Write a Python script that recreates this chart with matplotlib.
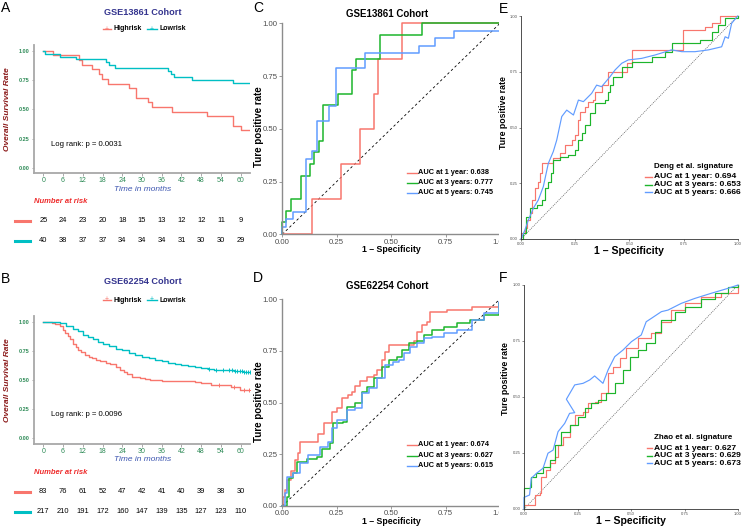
import matplotlib.pyplot as plt
import numpy as np
from matplotlib.lines import Line2D
from matplotlib.patches import Rectangle
import matplotlib.transforms as mtransforms

plt.rcParams['font.family'] = ['Liberation Sans', 'DejaVu Sans']

W, H = 746, 529

# ---- Kaplan-Meier data ----
month_ticks = [0, 6, 12, 18, 24, 30, 36, 42, 48, 54, 60]
km_end = 63

a_high_t = [0, 3.0, 11.0, 11.8, 14.7, 16.9, 17.7, 19.8, 25.9, 28.2, 31.9, 33.0, 39.0, 49.7, 57.8, 60.0]
a_high_s = [1.0, 0.96, 0.92, 0.88, 0.84, 0.80, 0.76, 0.72, 0.68, 0.60, 0.56, 0.52, 0.48, 0.44, 0.36, 0.32]
a_low_t = [0, 0.5, 5.1, 9.9, 19.1, 20.1, 21.8, 38.0, 38.8, 39.7, 45.1, 57.8]
a_low_s = [1.0, 0.975, 0.95, 0.925, 0.90, 0.875, 0.85, 0.825, 0.80, 0.775, 0.75, 0.725]
a_risk_high = [25, 24, 23, 20, 18, 15, 13, 12, 12, 11, 9]
a_risk_low = [40, 38, 37, 37, 34, 34, 34, 31, 30, 30, 29]

b_high_t = [0, 2.5, 3.5, 5.0, 6.0, 6.6, 7.5, 8.1, 9.1, 10.0, 10.6, 11.5, 12.7, 14.0, 14.7, 16.0, 17.2,
            19.0, 20.3, 22.0, 23.3, 24.5, 25.3, 27.0, 29.4, 31.0, 32.4, 36.0, 42.0, 46.0, 48.0, 51.0,
            54.0, 57.0, 59.8]
b_high_s = [1.0, 0.99, 0.976, 0.96, 0.93, 0.90, 0.876, 0.853, 0.81, 0.78, 0.76, 0.74, 0.717, 0.70, 0.69,
            0.675, 0.667, 0.65, 0.633, 0.61, 0.59, 0.566, 0.548, 0.53, 0.52, 0.506, 0.50, 0.494, 0.49,
            0.482, 0.47, 0.46, 0.455, 0.44, 0.414]
b_low_t = [0, 3.5, 5.0, 7.0, 9.0, 10.5, 12.2, 13.5, 15.0, 16.5, 18.0, 20.0, 22.0, 24.0, 26.0, 28.0,
           30.0, 32.0, 34.0, 36.0, 38.0, 40.0, 42.0, 44.0, 46.0, 48.0, 50.0, 52.0, 55.0, 58.0, 61.0]
b_low_s = [1.0, 0.995, 0.985, 0.96, 0.94, 0.92, 0.89, 0.87, 0.85, 0.83, 0.81, 0.79, 0.77, 0.755, 0.73,
           0.715, 0.70, 0.685, 0.672, 0.66, 0.65, 0.64, 0.632, 0.622, 0.61, 0.60, 0.593, 0.588, 0.583,
           0.578, 0.572]
b_high_cens = [53.5, 58.0, 61.0, 62.5]
b_low_cens = [50.5, 52.5, 54.5, 56.5, 57.5, 58.2, 59.0, 59.8, 60.5, 61.0, 61.6, 62.2, 62.7]
b_risk_high = [83, 76, 61, 52, 47, 42, 41, 40, 39, 38, 30]
b_risk_low = [217, 210, 191, 172, 160, 147, 139, 135, 127, 123, 110]

# ---- ROC data ----
c_fpr_1 = [0, 0.135, 0.135, 0.27, 0.27, 0.357, 0.357, 0.423, 0.423, 0.44, 0.44, 0.549, 0.549, 1.0]
c_tpr_1 = [0, 0, 0.167, 0.167, 0.333, 0.333, 0.5, 0.5, 0.667, 0.667, 0.833, 0.833, 1.0, 1.0]
c_fpr_3 = [0, 0, 0.017, 0.017, 0.04, 0.04, 0.084, 0.084, 0.127, 0.127, 0.146, 0.146, 0.167, 0.167,
           0.189, 0.189, 0.258, 0.258, 0.319, 0.319, 0.339, 0.339, 0.449, 0.449, 0.644, 0.644, 1.0]
c_tpr_3 = [0, 0.056, 0.056, 0.111, 0.111, 0.167, 0.167, 0.278, 0.278, 0.333, 0.333, 0.389, 0.389,
           0.444, 0.444, 0.611, 0.611, 0.667, 0.667, 0.778, 0.778, 0.833, 0.833, 0.944, 0.944, 1.0, 1.0]
c_fpr_5 = [0, 0, 0.017, 0.017, 0.05, 0.05, 0.109, 0.109, 0.135, 0.135, 0.158, 0.158, 0.215, 0.215,
           0.245, 0.245, 0.38, 0.38, 0.626, 0.626, 0.702, 0.702, 0.787, 0.787, 1.0]
c_tpr_5 = [0, 0.036, 0.036, 0.071, 0.071, 0.107, 0.107, 0.357, 0.357, 0.393, 0.393, 0.536, 0.536,
           0.607, 0.607, 0.786, 0.786, 0.857, 0.857, 0.893, 0.893, 0.929, 0.929, 0.964, 0.964]
c_labels = ['AUC at 1 year: 0.638', 'AUC at 3 years: 0.777', 'AUC at 5 years: 0.745']

d_fpr_1 = [0, 0.005, 0.012, 0.023, 0.038, 0.058, 0.071, 0.081, 0.158, 0.166, 0.192, 0.216, 0.227, 0.253,
           0.273, 0.304, 0.319, 0.334, 0.357, 0.388, 0.419, 0.434, 0.457, 0.472, 0.488, 0.603, 0.618,
           0.641, 0.664, 0.679, 0.733, 0.756, 0.871, 0.971, 0.994, 1.0]
d_tpr_1 = [0, 0.045, 0.077, 0.126, 0.171, 0.222, 0.254, 0.311, 0.311, 0.35, 0.40, 0.40, 0.456, 0.472,
           0.52, 0.536, 0.552, 0.58, 0.606, 0.625, 0.633, 0.657, 0.705, 0.746, 0.778, 0.797, 0.842,
           0.874, 0.89, 0.935, 0.935, 0.947, 0.963, 0.963, 0.979, 1.0]
d_fpr_3 = [0, 0.023, 0.032, 0.05, 0.066, 0.112, 0.158, 0.181, 0.219, 0.232, 0.281, 0.296, 0.334, 0.365,
           0.388, 0.419, 0.457, 0.488, 0.526, 0.549, 0.58, 0.618, 0.649, 0.687, 0.741, 0.802, 0.863,
           0.925, 0.994, 1.0]
d_tpr_3 = [0, 0.045, 0.134, 0.158, 0.214, 0.225, 0.238, 0.274, 0.306, 0.40, 0.407, 0.48, 0.496, 0.552,
           0.577, 0.617, 0.673, 0.705, 0.722, 0.754, 0.786, 0.799, 0.826, 0.85, 0.866, 0.882, 0.899,
           0.923, 0.979, 1.0]
d_fpr_5 = [0, 0.012, 0.023, 0.05, 0.081, 0.12, 0.173, 0.212, 0.227, 0.25, 0.288, 0.296, 0.334, 0.365,
           0.396, 0.434, 0.472, 0.51, 0.534, 0.557, 0.587, 0.618, 0.649, 0.687, 0.741, 0.802, 0.871,
           0.925, 0.994, 1.0]
d_tpr_5 = [0, 0.061, 0.141, 0.158, 0.206, 0.246, 0.287, 0.311, 0.375, 0.416, 0.416, 0.464, 0.472, 0.544,
           0.568, 0.617, 0.681, 0.697, 0.705, 0.737, 0.766, 0.786, 0.81, 0.818, 0.834, 0.85, 0.899,
           0.931, 0.987, 1.0]
d_labels = ['AUC at 1 year: 0.674', 'AUC at 3 years: 0.627', 'AUC at 5 years: 0.615']

e_fpr_1 = [0, 0, 0.018, 0.026, 0.042, 0.052, 0.065, 0.08, 0.088, 0.095, 0.134, 0.149, 0.18, 0.203, 0.234,
           0.249, 0.262, 0.272, 0.295, 0.311, 0.334, 0.342, 0.372, 0.403, 0.465, 0.488, 0.511, 0.642,
           0.688, 0.749, 0.811, 0.849, 0.88, 0.918, 1.0]
e_tpr_1 = [0, 0.025, 0.048, 0.085, 0.115, 0.175, 0.227, 0.257, 0.294, 0.339, 0.342, 0.362, 0.384, 0.422,
           0.444, 0.466, 0.534, 0.571, 0.593, 0.616, 0.623, 0.66, 0.69, 0.75, 0.75, 0.788, 0.848, 0.848,
           0.848, 0.937, 0.937, 0.952, 0.967, 1.0, 1.0]
e_fpr_3 = [0, 0.011, 0.022, 0.042, 0.072, 0.095, 0.111, 0.126, 0.138, 0.149, 0.18, 0.218, 0.249, 0.265,
           0.283, 0.295, 0.318, 0.342, 0.388, 0.403, 0.411, 0.426, 0.465, 0.511, 0.603, 0.665, 0.695,
           0.757, 0.826, 0.88, 0.911, 0.942, 1.0]
e_tpr_3 = [0, 0.025, 0.1, 0.138, 0.152, 0.175, 0.227, 0.257, 0.294, 0.354, 0.369, 0.377, 0.399, 0.444,
           0.474, 0.511, 0.564, 0.608, 0.623, 0.66, 0.69, 0.728, 0.773, 0.795, 0.818, 0.84, 0.877, 0.877,
           0.892, 0.93, 0.96, 0.99, 1.0]
e_fpr_5 = [0, 0.018, 0.034, 0.057, 0.08, 0.103, 0.126, 0.149, 0.165, 0.188, 0.211, 0.242, 0.265, 0.288,
           0.326, 0.349, 0.372, 0.411, 0.434, 0.465, 0.495, 0.557, 0.618, 0.695, 0.742, 0.803, 0.865,
           0.926, 0.942, 0.957, 0.972, 1.0]
e_tpr_5 = [0, 0.04, 0.085, 0.138, 0.175, 0.235, 0.339, 0.392, 0.444, 0.549, 0.578, 0.556, 0.623, 0.616,
           0.653, 0.69, 0.683, 0.728, 0.758, 0.788, 0.803, 0.81, 0.825, 0.848, 0.84, 0.84, 0.848, 0.862,
           0.907, 0.9, 0.967, 1.0]
e_labels = ['AUC at 1 year: 0.694', 'AUC at 3 years: 0.653', 'AUC at 5 years: 0.666']

f_fpr_1 = [0, 0, 0.026, 0.05, 0.073, 0.081, 0.104, 0.12, 0.143, 0.159, 0.182, 0.213, 0.237, 0.276, 0.299,
           0.33, 0.361, 0.393, 0.416, 0.447, 0.478, 0.533, 0.595, 0.642, 0.688, 0.751, 0.829, 0.922, 1.0]
f_tpr_1 = [0, 0.018, 0.018, 0.0625, 0.07, 0.144, 0.174, 0.204, 0.234, 0.286, 0.323, 0.375, 0.42, 0.435,
           0.472, 0.479, 0.516, 0.606, 0.635, 0.673, 0.717, 0.762, 0.784, 0.836, 0.888, 0.918, 0.945,
           0.963, 1.0]
f_fpr_3 = [0, 0, 0.026, 0.034, 0.058, 0.089, 0.12, 0.143, 0.174, 0.213, 0.252, 0.283, 0.315, 0.346,
           0.385, 0.424, 0.463, 0.494, 0.533, 0.572, 0.611, 0.642, 0.704, 0.751, 0.829, 0.891, 0.953, 1.0]
f_tpr_3 = [0, 0.092, 0.1, 0.144, 0.159, 0.189, 0.219, 0.286, 0.345, 0.375, 0.412, 0.449, 0.472, 0.487,
           0.516, 0.561, 0.621, 0.68, 0.71, 0.74, 0.792, 0.844, 0.881, 0.903, 0.936, 0.963, 0.993, 1.0]
f_fpr_5 = [0, 0, 0.026, 0.034, 0.058, 0.089, 0.112, 0.136, 0.159, 0.19, 0.213, 0.237, 0.198, 0.237,
           0.276, 0.307, 0.33, 0.369, 0.393, 0.424, 0.463, 0.502, 0.548, 0.571, 0.595, 0.642, 0.673,
           0.735, 0.798, 0.875, 0.953, 1.0]
f_tpr_5 = [0, 0.052, 0.0625, 0.137, 0.159, 0.182, 0.249, 0.263, 0.345, 0.382, 0.427, 0.43, 0.49, 0.554,
           0.561, 0.576, 0.594, 0.561, 0.621, 0.68, 0.71, 0.747, 0.777, 0.836, 0.851, 0.881, 0.888,
           0.918, 0.94, 0.963, 0.985, 1.0]
f_labels = ['AUC at 1 year: 0.627', 'AUC at 3 years: 0.629', 'AUC at 5 years: 0.673']

KM_RED, KM_CYAN = '#F8766D', '#00BFC4'
ROC_COLORS = ['#F8766D', '#1DB52C', '#619CFF']

fig = plt.figure(figsize=(W / 100, H / 100), dpi=100)


def add_ax(x0, y0, x1, y1, z=0):
    return fig.add_axes([x0 / W, 1 - y1 / H, (x1 - x0) / W, (y1 - y0) / H], zorder=z)


def ftext(x, y, s, **kw):
    return fig.text(x / W, 1 - y / H, s, **kw)


def fline(x0, x1, y, color, lw=1.0, **kw):
    fig.add_artist(Line2D([x0 / W, x1 / W], [1 - y / H, 1 - y / H], color=color, lw=lw, **kw))


def surv_at(t_arr, s_arr, times):
    idx = np.searchsorted(t_arr, times, side='right') - 1
    return np.asarray(s_arr)[idx]


def km_panel(top, bottom, one_y, zero_y, data, cens, risk, rows, title, pval):
    ax = add_ax(34, top, 250, bottom)
    px_per_month = (240.7 - 43.3) / 60
    ax.set_xlim(-(43.3 - 34) / px_per_month, (250 - 43.3) / px_per_month)
    unit = zero_y - one_y
    ax.set_ylim(-(bottom - zero_y) / unit, 1 + (one_y - top) / unit)
    for (t, s), col in zip(data, [KM_RED, KM_CYAN]):
        ax.step(list(t) + [km_end], list(s) + [s[-1]], where='post', color=col, lw=1.0)
    for (t, s), ct, col in zip(data, cens, [KM_RED, KM_CYAN]):
        if ct:
            ax.plot(ct, surv_at(t, s, ct), ls='none', marker='+', ms=3.5, mew=0.7, color=col)
    for sp in ['top', 'right']:
        ax.spines[sp].set_visible(False)
    for sp in ['left', 'bottom']:
        ax.spines[sp].set_color('#A8A8A8')
        ax.spines[sp].set_linewidth(1.3)
    ax.set_yticks([0, 0.25, 0.5, 0.75, 1.0])
    ax.set_yticklabels(['0.00', '0.25', '0.50', '0.75', '1.00'], fontsize=4, fontweight='bold',
                       color='#2E8B57')
    ax.set_xticks(month_ticks)
    ax.set_xticklabels([str(m) for m in month_ticks], fontsize=5.0, color='#2E8B57')
    ax.tick_params(length=1.8, width=0.5, color='#888888', pad=1.2)
    ftext(50.7, pval[1], pval[0], fontsize=5.6, va='center', ha='left')
    ftext(143, title[1], title[0], fontsize=6.6, fontweight='bold', color='#35358F',
          ha='center', va='center')
    ly = title[2]
    fline(103, 111, ly, KM_RED, lw=1.0)
    ftext(107, ly, '+', fontsize=5, color=KM_RED, ha='center', va='center')
    ftext(114, ly, 'Highrisk', fontsize=5, fontweight='bold', va='center')
    fline(147, 157, ly, KM_CYAN, lw=1.0)
    ftext(152, ly, '+', fontsize=5, color=KM_CYAN, ha='center', va='center')
    ftext(160, ly, 'Lowrisk', fontsize=5, fontweight='bold', va='center')
    ftext(8, (top + bottom) / 2, 'Overall Survival Rate', rotation=90, fontsize=6,
          fontweight='bold', style='italic', color='#8B1A1A', ha='center', va='center')
    ftext(142.7, rows[0], 'Time in months', fontsize=6.0, style='italic', color='#3C55B0',
          ha='center', va='center')
    ftext(34.3, rows[1], 'Number at risk', fontsize=5.5, fontweight='bold', style='italic',
          color='#EE2C2C', ha='left', va='center')
    trans = mtransforms.blended_transform_factory(ax.transData, fig.transFigure)
    for vals, ry, col in zip(risk, rows[2:], [KM_RED, KM_CYAN]):
        fline(15, 30, ry, col, lw=2.2)
        for m, v in zip(month_ticks, vals):
            ax.text(m, 1 - ry / H, str(v), transform=trans, fontsize=5.4, ha='center',
                    va='center', clip_on=False)
    return ax


km_panel(44.8, 173, 50.7, 168, [(a_high_t, a_high_s), (a_low_t, a_low_s)], [[], []],
         [a_risk_high, a_risk_low], [189.5, 201.5, 220.7, 240.7], ('GSE13861 Cohort', 12.7, 29),
         ('Log rank: p = 0.0031', 145))
km_panel(315.9, 443.5, 321.7, 438.3, [(b_high_t, b_high_s), (b_low_t, b_low_s)],
         [b_high_cens, b_low_cens], [b_risk_high, b_risk_low], [459.5, 472.2, 491.7, 511.7],
         ('GSE62254 Cohort', 282, 300), ('Log rank: p = 0.0096', 415))


def roc_panel(box, curves, step_flags, z, big):
    ax = add_ax(*box, z=z)
    ax.set_xlim(0, 1)
    ax.set_ylim(0, 1)
    if big:
        ax.plot([0, 1], [0, 1], color='black', lw=0.6, ls=(0, (3, 3)))
    else:
        ax.plot([0, 1], [0, 1], color='#555555', lw=0.5, ls=(0, (1.5, 1.5)))
    for (fpr, tpr), col, st in zip(curves, ROC_COLORS, step_flags):
        ax.plot(fpr, tpr, color=col, lw=1.1 if big else 0.85,
                drawstyle='steps-post' if st else 'default', clip_on=False)
    ticks = [0, 0.25, 0.5, 0.75, 1.0]
    labs = ['0.00', '0.25', '0.50', '0.75', '1.00']
    ax.set_xticks(ticks)
    ax.set_yticks(ticks)
    ax.set_xticklabels(labs)
    ax.set_yticklabels(labs)
    for sp in ['top', 'right']:
        ax.spines[sp].set_visible(False)
    ax.patch.set_alpha(0)
    if big:
        for sp in ['left', 'bottom']:
            ax.spines[sp].set_color('#8C8C8C')
            ax.spines[sp].set_linewidth(1.0)
        ax.tick_params(labelsize=5.6, labelcolor='#4D4D4D', color='#8C8C8C', length=2, width=0.6,
                       pad=1.2)
    else:
        for sp in ['left', 'bottom']:
            ax.spines[sp].set_color('#333333')
            ax.spines[sp].set_linewidth(0.6)
        ax.tick_params(labelsize=3, labelcolor='#4D4D4D', color='#333333', length=1.5, width=0.4,
                       pad=0.8)
    return ax


def roc_legend(x0, x1, xt, ys, labels, fs):
    for y, lab, col in zip(ys, labels, ROC_COLORS):
        fline(x0, x1, y, col, lw=1.0)
        ftext(xt, y, lab, fontsize=fs, fontweight='bold', va='center', ha='left')


# C
roc_panel((282.3, 23.3, 500, 234.3), [(c_fpr_1, c_tpr_1), (c_fpr_3, c_tpr_3), (c_fpr_5, c_tpr_5)],
          [False, False, False], 0, True)
ftext(387, 14, 'GSE13861 Cohort', fontsize=7, fontweight='bold', ha='center', va='center')
ftext(391, 249, '1 – Specificity', fontsize=6.3, fontweight='bold', ha='center', va='center')
ftext(259, 127, 'Ture positive rate', rotation=90, fontsize=7, fontweight='bold', ha='center',
      va='center')
roc_legend(406.7, 416.7, 418.5, [173, 183, 192.7], c_labels, 5.3)

# D
roc_panel((282.3, 299, 500, 506), [(d_fpr_1, d_tpr_1), (d_fpr_3, d_tpr_3), (d_fpr_5, d_tpr_5)],
          [True, True, True], 0, True)
ftext(387, 285.7, 'GSE62254 Cohort', fontsize=7, fontweight='bold', ha='center', va='center')
ftext(391, 521, '1 – Specificity', fontsize=6.3, fontweight='bold', ha='center', va='center')
ftext(259, 402, 'Ture positive rate', rotation=90, fontsize=7, fontweight='bold', ha='center',
      va='center')
roc_legend(406.7, 416.7, 418.5, [445, 455.7, 465.7], d_labels, 5.3)

# white band: panels E/F sit over the right edge of C/D
fig.add_artist(Rectangle((499 / W, 0), (W - 499) / W, 1, transform=fig.transFigure,
                         facecolor='white', edgecolor='none', zorder=0.5))

# E
roc_panel((521, 16, 737.7, 239), [(e_fpr_1, e_tpr_1), (e_fpr_3, e_tpr_3), (e_fpr_5, e_tpr_5)],
          [True, True, False], 1, False)
ftext(629, 250.5, '1 – Specificity', fontsize=7.6, fontweight='bold', ha='center', va='center')
ftext(503.5, 113, 'Ture positive rate', rotation=90, fontsize=6.3, fontweight='bold',
      ha='center', va='center')
ftext(654.3, 166, 'Deng et al. signature', fontsize=5.8, fontweight='bold', va='center')
roc_legend(645, 652, 654.3, [177, 184.5, 192], e_labels, 6.1)

# F
roc_panel((524, 285, 738, 509), [(f_fpr_1, f_tpr_1), (f_fpr_3, f_tpr_3), (f_fpr_5, f_tpr_5)],
          [True, True, False], 1, False)
ftext(631, 520.5, '1 – Specificity', fontsize=7.6, fontweight='bold', ha='center', va='center')
ftext(505, 379, 'Ture positive rate', rotation=90, fontsize=6.3, fontweight='bold',
      ha='center', va='center')
ftext(654.3, 437.7, 'Zhao et al. signature', fontsize=5.8, fontweight='bold', va='center')
roc_legend(646.7, 652, 654.3, [448, 455.7, 463.3], f_labels, 6.1)

# panel letters
for lab, x, y in [('A', 6, 8), ('B', 6, 279), ('C', 258, 8), ('D', 258, 278), ('E', 503, 9),
                  ('F', 503, 278)]:
    ftext(x, y, lab, fontsize=10, ha='center', va='center')

fig.savefig('out.png', dpi=100, facecolor='white')
